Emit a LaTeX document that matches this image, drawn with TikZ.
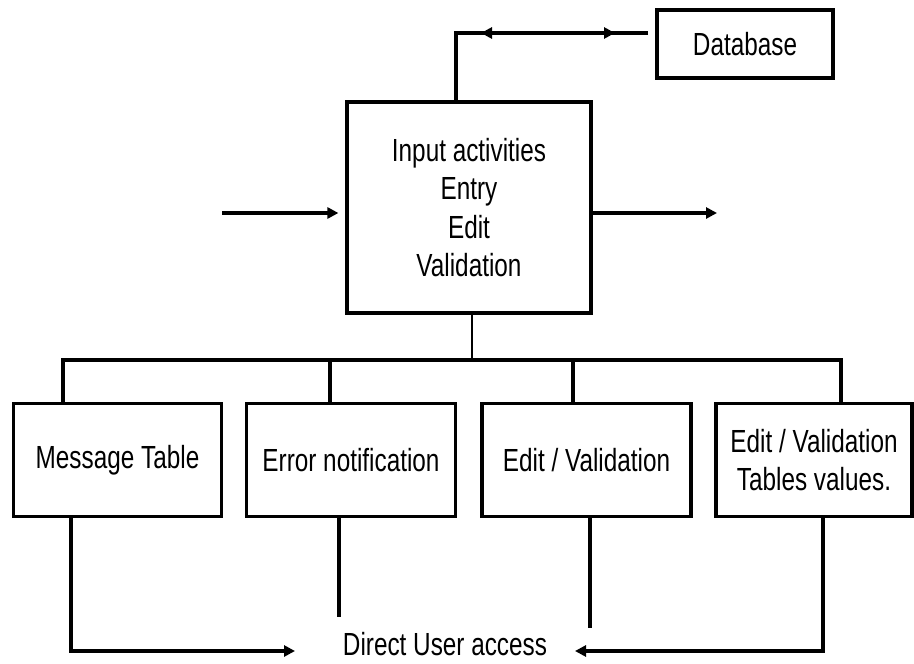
\documentclass[tikz,border=0pt]{standalone}
\usepackage{fontspec}
\setmainfont{Liberation Sans}[FakeStretch=0.76]
\usetikzlibrary{arrows.meta,decorations.markings}

\begin{document}
\begin{tikzpicture}[x=1pt,y=-1pt,
  box/.style={draw,line width=3.2pt,inner sep=0pt,align=center,
    font=\fontsize{32}{38.3}\selectfont},
  lbl/.style={inner sep=0pt,font=\fontsize{32}{38}\selectfont},
  link/.style={line width=3.2pt},
  thinlink/.style={line width=1.2pt},
  tip/.style={-{Triangle[length=11pt,width=11pt]}}]
\useasboundingbox[fill=white] (0,0) rectangle (914,664);

% process and data store
\node[box,minimum width=244pt,minimum height=211pt] (main) at (469,207.5)
  {Input activities\\Entry\\Edit\\Validation};
\node[box,minimum width=176pt,minimum height=68pt] (db) at (745,44) {Database};

% second level boxes
\node[box,minimum width=208pt,minimum height=113pt] (msg) at (117.5,460) {Message Table};
\node[box,minimum width=209pt,minimum height=113pt] (err) at (351,460) {Error notification};
\node[box,minimum width=209pt,minimum height=113pt] (ev)  at (586.5,460) {Edit / Validation};
\node[box,minimum width=196pt,minimum height=113pt] (evt) at (814,460) {Edit / Validation\\Tables values.};

\node[lbl,anchor=base] (dua) at (445,655) {Direct User access};

% database link with arrows both ways
\coordinate (dbend) at (648,33);
\coordinate (corner) at (456,33);
\draw[link,
  decoration={markings,
    mark=at position 33pt with {\arrowreversed{Triangle[length=11pt,width=11pt]}},
    mark=at position 167pt with {\arrow{Triangle[length=11pt,width=11pt]}}},
  postaction={decorate}]
  (dbend) -- (corner) -- (corner |- main.north);

% input and output flows
\coordinate (inL) at (222,213);
\coordinate (outR) at (717,213);
\draw[link,tip,shorten >=7pt] (inL) -- (inL -| main.west);
\draw[link,tip] (outR -| main.east) -- (outR);

% distribution bus
\coordinate (tap) at (472,360);
\coordinate (b1) at (63,360);
\coordinate (b2) at (330,360);
\coordinate (b3) at (573,360);
\coordinate (b4) at (841,360);
\draw[thinlink] (tap |- main.south) -- (tap);
\draw[link] (b1 |- msg.north) -- (b1) -- (b4) -- (b4 |- evt.north);
\draw[link] (b2) -- (b2 |- err.north);
\draw[link] (b3) -- (b3 |- ev.north);

% links toward direct user access
\coordinate (c1) at (71,651);
\coordinate (t1) at (295,651);
\coordinate (c4) at (823,651);
\coordinate (t4) at (575,651);
\coordinate (e2) at (339,617);
\coordinate (e3) at (590,628);
\draw[link,tip] (c1 |- msg.south) -- (c1) -- (t1);
\draw[link,tip] (c4 |- evt.south) -- (c4) -- (t4);
\draw[link] (e2 |- err.south) -- (e2);
\draw[link] (e3 |- ev.south) -- (e3);
\end{tikzpicture}
\end{document}
